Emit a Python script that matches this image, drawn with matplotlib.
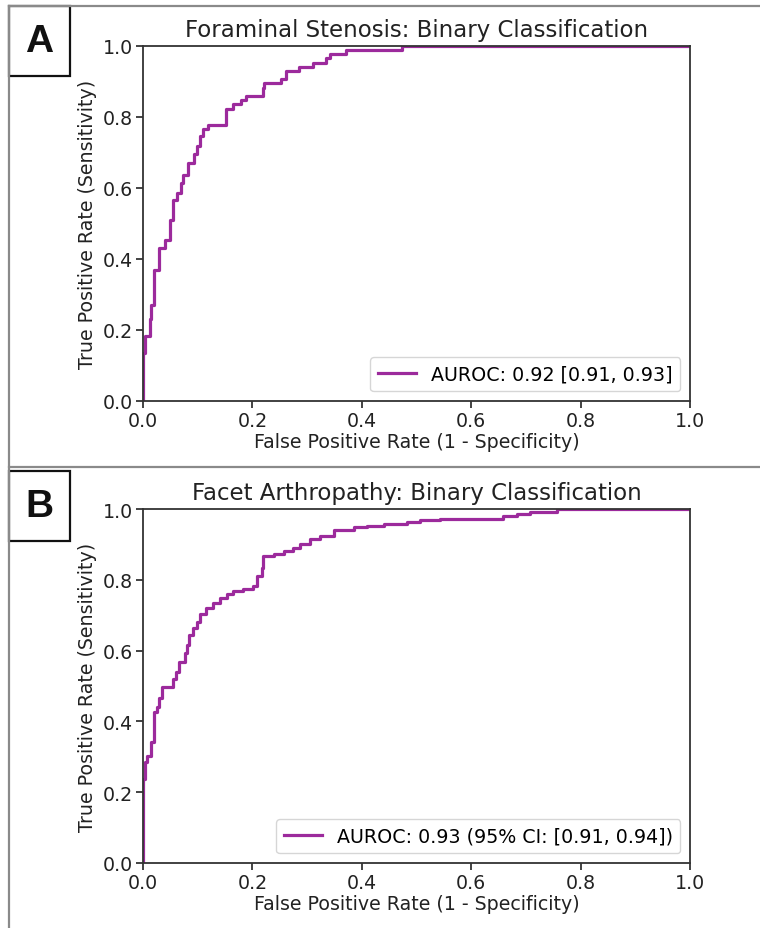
import matplotlib
matplotlib.use("Agg")
import matplotlib.pyplot as plt
from matplotlib.lines import Line2D
from matplotlib.patches import Rectangle

# ---- data ----
fpr_a = [0.0, 0.0, 0.003, 0.012, 0.015, 0.0195, 0.030, 0.040, 0.049, 0.054, 0.062,
         0.069, 0.074, 0.082, 0.094, 0.099, 0.104, 0.110, 0.119, 0.151, 0.165,
         0.180, 0.189, 0.219, 0.222, 0.253, 0.262, 0.286, 0.311, 0.335, 0.341,
         0.372, 0.473, 1.0]
tpr_a = [0.0, 0.136, 0.183, 0.23, 0.27, 0.37, 0.43, 0.454, 0.51, 0.566, 0.587,
         0.615, 0.637, 0.671, 0.695, 0.718, 0.746, 0.767, 0.777, 0.823, 0.836,
         0.848, 0.859, 0.883, 0.895, 0.906, 0.93, 0.942, 0.953, 0.967, 0.977,
         0.989, 1.0, 1.0]

fpr_b = [0.0, 0.0, 0.003, 0.007, 0.015, 0.020, 0.026, 0.029, 0.035, 0.055, 0.061,
         0.066, 0.076, 0.081, 0.084, 0.092, 0.098, 0.105, 0.116, 0.128, 0.141,
         0.153, 0.165, 0.183, 0.202, 0.208, 0.217, 0.220, 0.239, 0.257, 0.275,
         0.287, 0.306, 0.324, 0.349, 0.385, 0.410, 0.440, 0.482, 0.507, 0.543,
         0.659, 0.684, 0.708, 0.757, 1.0]
tpr_b = [0.0, 0.237, 0.284, 0.303, 0.341, 0.427, 0.44, 0.466, 0.498, 0.521, 0.54,
         0.569, 0.592, 0.616, 0.645, 0.664, 0.682, 0.703, 0.72, 0.735, 0.749,
         0.76, 0.768, 0.773, 0.782, 0.81, 0.834, 0.867, 0.872, 0.882, 0.891,
         0.902, 0.915, 0.924, 0.940, 0.948, 0.953, 0.958, 0.963, 0.968, 0.973,
         0.980, 0.987, 0.992, 1.0, 1.0]

titles = ["Foraminal Stenosis: Binary Classification",
          "Facet Arthropathy: Binary Classification"]
legend_labels = ["AUROC: 0.92 [0.91, 0.93]",
                 "AUROC: 0.93 (95% CI: [0.91, 0.94])"]
panel_letters = ["A", "B"]
ticks = [0.0, 0.2, 0.4, 0.6, 0.8, 1.0]
tick_labels = ["0.0", "0.2", "0.4", "0.6", "0.8", "1.0"]
xlabel = "False Positive Rate (1 - Specificity)"
ylabel = "True Positive Rate (Sensitivity)"

# ---- figure ----
W, H = 760, 929
fig = plt.figure(figsize=(W / 100, H / 100), dpi=100)
fig.patch.set_facecolor("white")

color = "#9c2a9c"
base = 13.7

def fx(px):
    return px / W

def fy(py):
    return 1 - py / H

axes_px = [(143, 47, 690, 402), (143, 510, 690, 864)]
box_px = [(9, 7, 70, 77), (9, 472, 70, 542)]
data = [(fpr_a, tpr_a), (fpr_b, tpr_b)]

for i in range(2):
    l, t, r, b = axes_px[i]
    ax = fig.add_axes([fx(l), fy(b), fx(r) - fx(l), fy(t) - fy(b)])
    x, y = data[i]
    ax.plot(x, y, drawstyle="steps-post", color=color, lw=2.3,
            label=legend_labels[i])
    ax.set_xlim(0, 1)
    ax.set_ylim(0, 1)
    ax.set_xticks(ticks)
    ax.set_xticklabels(tick_labels)
    ax.set_yticks(ticks)
    ax.set_yticklabels(tick_labels)
    ax.tick_params(labelsize=base, length=5, width=1.2, colors="#222222",
                   pad=2)
    for s in ax.spines.values():
        s.set_linewidth(1.3)
        s.set_color("#333333")
    ax.set_title(titles[i], fontsize=base * 1.2, color="#222222", pad=7)
    ax.set_xlabel(xlabel, fontsize=base, color="#222222", labelpad=2)
    ax.set_ylabel(ylabel, fontsize=base, color="#222222", labelpad=4)
    ax.legend(loc="lower right", fontsize=base, handlelength=2.0,
              borderpad=0.4, framealpha=0.8)

    bl, bt, br, bb = box_px[i]
    fig.add_artist(Rectangle((fx(bl), fy(bb)), fx(br) - fx(bl), fy(bt) - fy(bb),
                             transform=fig.transFigure, fill=False,
                             edgecolor="#111111", lw=1.6))
    fig.text(fx((bl + br) / 2), fy((bt + bb) / 2), panel_letters[i],
             ha="center", va="center", fontsize=28, fontweight="bold",
             family="Liberation Sans", color="#111111")

# panel frame lines
gray = "#8a8a8a"
fig.add_artist(Line2D([fx(9), 1], [fy(7), fy(7)], color=gray, lw=1.6,
                      transform=fig.transFigure))
fig.add_artist(Line2D([fx(9), fx(9)], [fy(7), 0], color=gray, lw=1.6,
                      transform=fig.transFigure))
fig.add_artist(Line2D([fx(9), 1], [fy(468), fy(468)], color=gray, lw=1.6,
                      transform=fig.transFigure))

fig.savefig("out.png", dpi=100)
